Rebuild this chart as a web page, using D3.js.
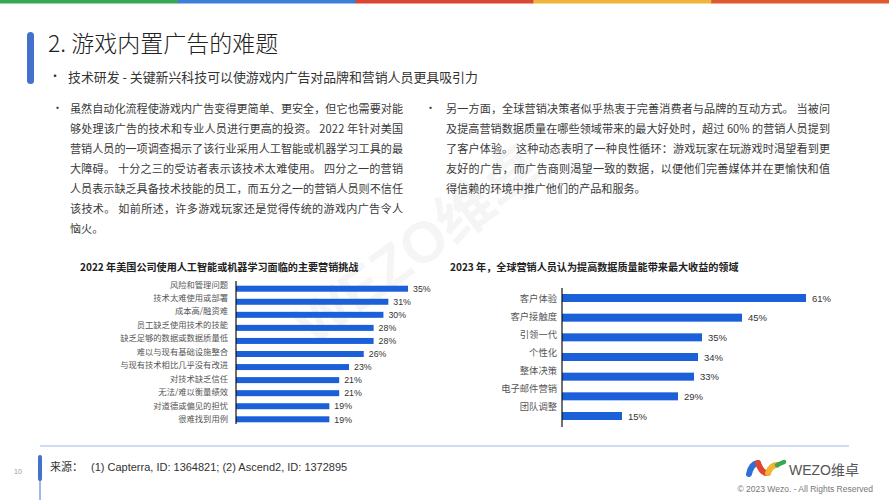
<!DOCTYPE html>
<html><head><meta charset="utf-8">
<script src="https://cdn.jsdelivr.net/npm/d3@7"></script>
<style>
html,body{margin:0;padding:0;background:#fff;}
svg{display:block;font-family:"Noto Sans CJK SC","Noto Sans",sans-serif;}
</style></head>
<body><svg id="c" width="889" height="500"></svg>
<script>
// ---- data ----
const leftCats = ["风险和管理问题","技术太难使用或部署","成本高/融资难","员工缺乏使用技术的技能","缺乏足够的数据或数据质量低","难以与现有基础设施整合","与现有技术相比几乎没有改进","对技术缺乏信任","无法/难以衡量绩效","对道德或偏见的担忧","很难找到用例"];
const leftVals = [35,31,30,28,28,26,23,21,21,19,19];
const rightCats = ["客户体验","客户接触度","引领一代","个性化","整体决策","电子邮件营销","团队调整"];
const rightVals = [61,45,35,34,33,29,15];
const leftTitle = "2022 年美国公司使用人工智能或机器学习面临的主要营销挑战";
const rightTitle = "2023 年，全球营销人员认为提高数据质量能带来最大收益的领域";
const pageTitle = "2. 游戏内置广告的难题";
const subTitle = "技术研发 - 关键新兴科技可以使游戏内广告对品牌和营销人员更具吸引力";
const leftPara = ["虽然自动化流程使游戏内广告变得更简单、更安全，但它也需要对能","够处理该广告的技术和专业人员进行更高的投资。 2022 年针对美国","营销人员的一项调查揭示了该行业采用人工智能或机器学习工具的最","大障碍。 十分之三的受访者表示该技术太难使用。 四分之一的营销","人员表示缺乏具备技术技能的员工，而五分之一的营销人员则不信任","该技术。 如前所述，许多游戏玩家还是觉得传统的游戏内广告令人","恼火。"];
const rightPara = ["另一方面，全球营销决策者似乎热衷于完善消费者与品牌的互动方式。 当被问","及提高营销数据质量在哪些领域带来的最大好处时，超过 60% 的营销人员提到","了客户体验。 这种动态表明了一种良性循环：游戏玩家在玩游戏时渴望看到更","友好的广告，而广告商则渴望一致的数据，以便他们完善媒体并在更愉快和值","得信赖的环境中推广他们的产品和服务。"];
const topColors = ["#34a853","#3d7fd6","#dc4534","#f0b43a","#e05a2f"];

const svg = d3.select("#c");
const BAR = "#1b5fd9";

// top color strip
const xs = d3.scaleBand().domain(d3.range(topColors.length)).range([0,889]);
svg.selectAll("rect.top").data(topColors).join("rect")
  .attr("x",(d,i)=>xs(i)).attr("y",0).attr("width",xs.bandwidth()+0.5).attr("height",3.5).attr("fill",d=>d);

// watermark
svg.append("text").attr("transform","translate(430,262) rotate(-36)")
  .attr("text-anchor","middle").attr("font-size",58).attr("font-weight",700)
  .attr("font-family","Arial, 'Noto Sans CJK SC', sans-serif")
  .attr("fill","#000").attr("fill-opacity",0.04).text("WEZO维卓");

// title block
svg.append("rect").attr("x",27).attr("y",32).attr("width",7).attr("height",52).attr("rx",3.5).attr("fill","#4471cc");
svg.append("text").attr("x",48).attr("y",52).attr("font-size",23).attr("font-weight",300).attr("fill","#222").text(pageTitle);
svg.append("text").attr("x",49).attr("y",81).attr("font-size",12).attr("fill","#333").text("•");
svg.append("text").attr("x",68).attr("y",81.5).attr("font-size",12.9).attr("fill","#333").text(subTitle);

// paragraphs
function para(x, bx, lines, width){
  svg.append("text").attr("x",bx).attr("y",112).attr("font-size",11).attr("fill","#333").text("•");
  svg.selectAll(null).data(lines).join("text")
    .attr("x",x).attr("y",(d,i)=>112.5+i*20.1)
    .attr("font-size",11.1).attr("fill","#3a3a3a")
    .attr("textLength",(d,i)=> i<lines.length-1 ? width : null)
    .attr("lengthAdjust","spacing")
    .text(d=>d);
}
para(70, 52, leftPara, 333);
para(446, 425, rightPara, 384);

// chart titles
svg.append("text").attr("x",80).attr("y",270.5).attr("font-size",10.1).attr("font-weight",700).attr("fill","#222").text(leftTitle);
svg.append("text").attr("x",450).attr("y",271).attr("font-size",10.1).attr("font-weight",700).attr("fill","#222").text(rightTitle);

// ---- left chart ----
const x1 = d3.scaleLinear().domain([0,35]).range([236,408]);
const y1 = d3.scalePoint().domain(leftCats).range([288.7,419.3]);
const y1l = d3.scalePoint().domain(leftCats).range([284.5,419.3]);
const g1 = svg.append("g");
g1.selectAll("rect").data(leftVals).join("rect")
  .attr("x",x1(0)).attr("y",(d,i)=>y1(leftCats[i])-3).attr("width",d=>x1(d)-x1(0)).attr("height",6).attr("fill",BAR);
g1.selectAll("text.lab").data(leftCats).join("text").attr("class","lab")
  .attr("x",228).attr("y",d=>y1l(d)+3).attr("text-anchor","end").attr("font-size",8.3).attr("fill","#555").text(d=>d);
g1.selectAll("text.val").data(leftVals).join("text").attr("class","val")
  .attr("x",d=>x1(d)+5).attr("y",(d,i)=>y1(leftCats[i])+3.2)
  .attr("font-family","Arial, 'Liberation Sans', sans-serif").attr("font-size",8.8).attr("fill","#333").text(d=>d+"%");
g1.append("line").attr("x1",x1(0)).attr("x2",x1(0)).attr("y1",281).attr("y2",424).attr("stroke","#111").attr("stroke-width",1.2);

// ---- right chart ----
const x2 = d3.scaleLinear().domain([0,61]).range([562,806]);
const y2 = d3.scalePoint().domain(rightCats).range([298,416]);
const y2l = d3.scalePoint().domain(rightCats).range([299,406.7]);
const g2 = svg.append("g");
g2.selectAll("rect").data(rightVals).join("rect")
  .attr("x",x2(0)).attr("y",(d,i)=>y2(rightCats[i])-4).attr("width",d=>x2(d)-x2(0)).attr("height",8).attr("fill",BAR);
g2.selectAll("text.lab").data(rightCats).join("text").attr("class","lab")
  .attr("x",557).attr("y",d=>y2l(d)+3.3).attr("text-anchor","end").attr("font-size",9.3).attr("fill","#555").text(d=>d);
g2.selectAll("text.val").data(rightVals).join("text").attr("class","val")
  .attr("x",d=>x2(d)+6).attr("y",(d,i)=>y2(rightCats[i])+3.5)
  .attr("font-family","Arial, 'Liberation Sans', sans-serif").attr("font-size",9.5).attr("fill","#333").text(d=>d+"%");
g2.append("line").attr("x1",x2(0)).attr("x2",x2(0)).attr("y1",288).attr("y2",427).attr("stroke","#111").attr("stroke-width",1.2);

// ---- footer ----
svg.append("line").attr("x1",40).attr("x2",849).attr("y1",446).attr("y2",446).attr("stroke","#9db7e6").attr("stroke-width",1.2);
svg.append("text").attr("x",14).attr("y",474).attr("font-size",7).attr("fill","#999").attr("font-family","Arial, sans-serif").text("10");
svg.append("line").attr("x1",40).attr("x2",40).attr("y1",470).attr("y2",500).attr("stroke","#4471cc").attr("stroke-width",1);
svg.append("rect").attr("x",38).attr("y",455).attr("width",4).attr("height",26).attr("rx",2).attr("fill","#4471cc");
svg.append("text").attr("x",50).attr("y",471).attr("font-size",11).attr("fill","#333").text("来源：");
svg.append("text").attr("x",91).attr("y",471).attr("font-size",11).attr("fill","#333").attr("font-family","Arial, 'Liberation Sans', sans-serif").text("(1) Capterra, ID: 1364821; (2) Ascend2, ID: 1372895");

// logo
const logo = svg.append("g").attr("fill","none").attr("stroke-linecap","round").attr("stroke-width",6);
logo.append("path").attr("d","M749,474 Q751,464 758,463").attr("stroke","#2f6fd6");
logo.append("path").attr("d","M758,463 Q762,474 768,473").attr("stroke","#e0452f");
logo.append("path").attr("d","M768,473 Q771,465 777,465").attr("stroke","#f2b233");
logo.append("path").attr("d","M777,465 L784,462").attr("stroke","#37a852").attr("stroke-width",4.5);
svg.append("text").attr("x",789).attr("y",475).attr("font-size",14).attr("fill","#555").attr("font-family","Arial, 'Noto Sans CJK SC', sans-serif").text("WEZO维卓");
svg.append("text").attr("x",873).attr("y",492).attr("text-anchor","end").attr("font-size",8.5).attr("fill","#777").attr("font-family","Arial, sans-serif").text("© 2023 Wezo. - All Rights Reserved");
</script>
</body></html>
